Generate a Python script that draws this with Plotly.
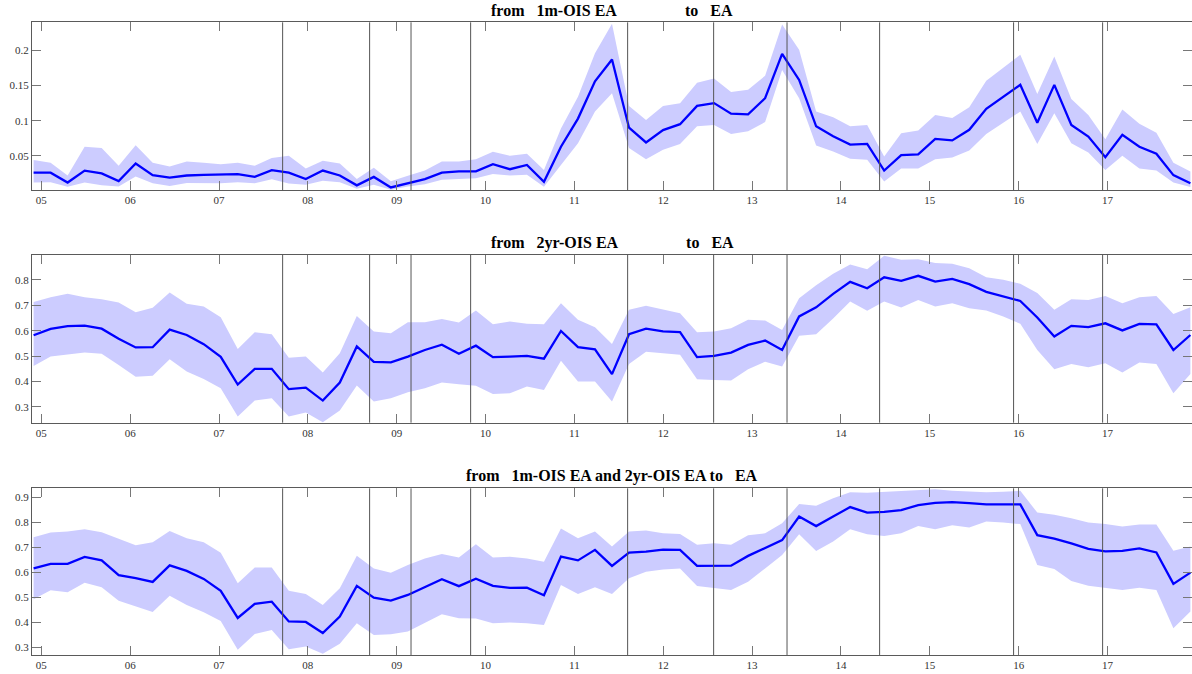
import plotly.graph_objects as go

# ---- time index (decimal years) ----
n_obs = 69
t_start, t_end = 2004.913, 2017.933
dates = [t_start + i * (t_end - t_start) / (n_obs - 1) for i in range(n_obs)]

year_ticks = list(range(2005, 2018))
year_labels = ["%02d" % (y % 100) for y in year_ticks]

# dates of the vertical event markers
events = [2007.716, 2008.695, 2009.161, 2009.832, 2011.599,
          2012.567, 2013.393, 2014.435, 2015.943, 2016.945]

# ---- panel 1: from 1m-OIS EA to EA ----
m1_mean = [0.026, 0.026, 0.012, 0.029, 0.025, 0.014, 0.039, 0.0225, 0.019, 0.022, 0.023,
           0.023, 0.024, 0.020, 0.0296, 0.026, 0.017, 0.029, 0.022, 0.008, 0.020, 0.005,
           0.0115, 0.017, 0.026, 0.028, 0.028, 0.038, 0.031, 0.037, 0.013, 0.063, 0.103,
           0.156, 0.187, 0.090, 0.069, 0.0866, 0.095, 0.121, 0.125, 0.110, 0.109, 0.132,
           0.195, 0.158,
           0.092, 0.078, 0.066, 0.067, 0.029, 0.051, 0.052, 0.074, 0.072, 0.087, 0.117,
           0.134, 0.151, 0.097, 0.151, 0.094, 0.0775, 0.048, 0.080, 0.063, 0.053, 0.0225, 0.011]
m1_upper = [0.044, 0.040, 0.022, 0.063, 0.061, 0.036, 0.065, 0.040, 0.035, 0.042, 0.040,
            0.038, 0.040, 0.036, 0.047, 0.050, 0.032, 0.043, 0.039, 0.017, 0.033, 0.014,
            0.0215, 0.029, 0.042, 0.042, 0.045, 0.0557, 0.050, 0.053, 0.030, 0.089, 0.134,
            0.196, 0.238, 0.121, 0.101, 0.121, 0.125, 0.154, 0.160, 0.141, 0.144, 0.164,
            0.237, 0.201,
            0.113, 0.105, 0.092, 0.094, 0.049, 0.082, 0.086, 0.108, 0.104, 0.119, 0.157,
            0.175, 0.194, 0.138, 0.1915, 0.131, 0.108, 0.0737, 0.116, 0.0955, 0.083, 0.040, 0.0277]
m1_lower = [0.012, 0.0125, 0.006, 0.012, 0.008, 0.0065, 0.0205, 0.011, 0.007, 0.0115, 0.0115,
            0.011, 0.0125, 0.011, 0.0167, 0.0105, 0.0087, 0.0144, 0.0125, 0.003, 0.0087, 0.0016,
            0.0063, 0.0096, 0.0158, 0.017, 0.018, 0.024, 0.022, 0.023, 0.006, 0.037, 0.068,
            0.113, 0.139, 0.061, 0.045, 0.0585, 0.067, 0.092, 0.094, 0.081, 0.085, 0.098,
            0.172, 0.132,
            0.0647, 0.056, 0.0457, 0.0444, 0.0134, 0.032, 0.032, 0.045, 0.0477, 0.0576, 0.081,
            0.097, 0.113, 0.067, 0.1107, 0.068, 0.0547, 0.030, 0.050, 0.032, 0.029, 0.012, 0.0055]

# ---- panel 2: from 2yr-OIS EA to EA ----
y2_mean = [0.582, 0.607, 0.618, 0.620, 0.608, 0.568, 0.534, 0.535, 0.604, 0.583, 0.547,
           0.497, 0.388, 0.450, 0.450, 0.370, 0.376, 0.325, 0.396, 0.538, 0.477, 0.475,
           0.498, 0.524, 0.545, 0.509, 0.541, 0.496, 0.498, 0.501, 0.490, 0.599, 0.535,
           0.527, 0.429, 0.586, 0.608, 0.597, 0.594, 0.496, 0.501, 0.514, 0.544, 0.561,
           0.524, 0.656,
           0.692, 0.745, 0.792, 0.767, 0.810, 0.796, 0.816, 0.793, 0.804, 0.783, 0.753,
           0.734, 0.717, 0.652, 0.577, 0.619, 0.614, 0.629, 0.601, 0.627, 0.625, 0.524, 0.583]
y2_upper = [0.713, 0.732, 0.745, 0.732, 0.724, 0.711, 0.673, 0.690, 0.750, 0.706, 0.695,
            0.653, 0.528, 0.594, 0.586, 0.493, 0.498, 0.435, 0.511, 0.658, 0.597, 0.590,
            0.633, 0.633, 0.646, 0.632, 0.679, 0.625, 0.636, 0.627, 0.625, 0.708, 0.643,
            0.614, 0.548, 0.682, 0.698, 0.685, 0.669, 0.594, 0.597, 0.610, 0.643, 0.640,
            0.603, 0.728,
            0.779, 0.824, 0.860, 0.842, 0.895, 0.879, 0.881, 0.866, 0.863, 0.846, 0.810,
            0.800, 0.785, 0.748, 0.682, 0.724, 0.721, 0.737, 0.708, 0.732, 0.737, 0.666, 0.692]
y2_lower = [0.461, 0.498, 0.505, 0.514, 0.509, 0.465, 0.419, 0.423, 0.488, 0.439, 0.410,
            0.373, 0.262, 0.325, 0.334, 0.262, 0.278, 0.240, 0.286, 0.384, 0.321, 0.334,
            0.358, 0.373, 0.396, 0.389, 0.383, 0.351, 0.354, 0.380, 0.367, 0.482, 0.400,
            0.400, 0.321, 0.469, 0.517, 0.511, 0.505, 0.409, 0.406, 0.404, 0.448, 0.478,
            0.459, 0.580,
            0.586, 0.648, 0.715, 0.678, 0.715, 0.691, 0.721, 0.695, 0.708, 0.688, 0.679,
            0.656, 0.627, 0.524, 0.448, 0.469, 0.456, 0.472, 0.435, 0.475, 0.469, 0.354, 0.430]

# ---- panel 3: from 1m-OIS EA and 2yr-OIS EA to EA ----
both_mean = [0.615, 0.633, 0.633, 0.661, 0.647, 0.588, 0.576, 0.561, 0.627, 0.605, 0.573,
             0.525, 0.417, 0.473, 0.482, 0.403, 0.401, 0.357, 0.423, 0.545, 0.498, 0.486,
             0.509, 0.542, 0.572, 0.544, 0.574, 0.545, 0.537, 0.538, 0.508, 0.662, 0.647,
             0.689, 0.625, 0.678, 0.682, 0.690, 0.689, 0.625, 0.626, 0.626, 0.665, 0.698,
             0.728, 0.822,
             0.784, 0.822, 0.860, 0.838, 0.841, 0.848, 0.868, 0.877, 0.880, 0.876, 0.871,
             0.871, 0.871, 0.748, 0.734, 0.715, 0.693, 0.683, 0.685, 0.695, 0.679, 0.553, 0.598]
both_upper = [0.739, 0.758, 0.762, 0.771, 0.759, 0.734, 0.707, 0.719, 0.764, 0.735, 0.719,
              0.678, 0.556, 0.619, 0.619, 0.526, 0.513, 0.469, 0.536, 0.666, 0.615, 0.598,
              0.629, 0.655, 0.673, 0.659, 0.711, 0.659, 0.662, 0.655, 0.642, 0.774, 0.735,
              0.762, 0.702, 0.762, 0.766, 0.755, 0.752, 0.709, 0.715, 0.709, 0.747, 0.755,
              0.795, 0.872,
              0.865, 0.895, 0.919, 0.917, 0.921, 0.923, 0.928, 0.931, 0.925, 0.921, 0.919,
              0.921, 0.925, 0.838, 0.829, 0.815, 0.798, 0.792, 0.782, 0.790, 0.790, 0.686, 0.702]
both_lower = [0.492, 0.528, 0.520, 0.558, 0.540, 0.486, 0.463, 0.441, 0.506, 0.469, 0.440,
              0.405, 0.290, 0.353, 0.369, 0.292, 0.303, 0.274, 0.314, 0.396, 0.349, 0.352,
              0.363, 0.396, 0.432, 0.416, 0.415, 0.396, 0.399, 0.396, 0.389, 0.549, 0.513,
              0.540, 0.513, 0.576, 0.602, 0.611, 0.615, 0.545, 0.538, 0.529, 0.562, 0.615,
              0.669, 0.751,
              0.685, 0.722, 0.771, 0.751, 0.744, 0.755, 0.784, 0.771, 0.787, 0.778, 0.802,
              0.798, 0.792, 0.629, 0.613, 0.565, 0.546, 0.536, 0.529, 0.538, 0.529, 0.376, 0.443]

NB = "\u00a0"
titles = [
    "from" + NB * 3 + "1m-OIS EA" + NB * 17 + "to" + NB * 3 + "EA",
    "from" + NB * 3 + "2yr-OIS EA" + NB * 17 + "to" + NB * 3 + "EA",
    "from" + NB * 3 + "1m-OIS EA and 2yr-OIS EA to" + NB * 3 + "EA",
]

panels = [
    (m1_mean, m1_lower, m1_upper, [0.001, 0.240], 0.05, [0.7177, 0.9669]),
    (y2_mean, y2_lower, y2_upper, [0.238, 0.898], 0.1, [0.3729, 0.6217]),
    (both_mean, both_lower, both_upper, [0.269, 0.935], 0.1, [0.0282, 0.2755]),
]

BAND = "rgb(204,204,255)"
LINE = "rgb(0,0,255)"
FRAME = "#5a5a5a"
TICKFONT = dict(family="Liberation Serif, Times New Roman, serif", size=11, color="#333333")

fig = go.Figure()
layout = dict(
    width=1192, height=674,
    margin=dict(l=32, r=0, t=0, b=0),
    paper_bgcolor="white", plot_bgcolor="white",
    showlegend=False,
)
annotations = []
shapes = []

for k, (mean, lo, hi, yrng, dtick, dom) in enumerate(panels):
    sfx = "" if k == 0 else str(k + 1)
    xname, yname = "x" + sfx, "y" + sfx

    # confidence band as a closed polygon
    fig.add_trace(go.Scatter(
        x=dates + dates[::-1], y=hi + lo[::-1],
        xaxis=xname, yaxis=yname,
        mode="lines", line=dict(width=0, color=BAND),
        fill="toself", fillcolor=BAND, hoverinfo="skip",
    ))
    fig.add_trace(go.Scatter(
        x=dates, y=mean, xaxis=xname, yaxis=yname,
        mode="lines", line=dict(color=LINE, width=2.3),
    ))

    layout["xaxis" + sfx] = dict(
        domain=[0, 1], anchor=yname,
        range=[2004.895, 2017.951],
        tickvals=year_ticks, ticktext=year_labels,
        ticks="inside", ticklen=9, tickwidth=1, tickcolor="#777777",
        showline=True, linecolor=FRAME, linewidth=1, mirror="ticks",
        showgrid=False, zeroline=False, tickfont=TICKFONT,
    )
    layout["yaxis" + sfx] = dict(
        domain=dom, anchor=xname,
        range=yrng, dtick=dtick, tick0=0,
        ticks="inside", ticklen=9, tickwidth=1, tickcolor="#777777",
        showline=True, linecolor=FRAME, linewidth=1, mirror="ticks",
        showgrid=False, zeroline=False, tickfont=TICKFONT,
    )

    for ev in events:
        shapes.append(dict(
            type="line", xref=xname, yref=yname + " domain",
            x0=ev, x1=ev, y0=0, y1=1,
            line=dict(color="#555555", width=1), layer="above",
        ))

    annotations.append(dict(
        text="<b>" + titles[k] + "</b>", xref="paper", yref="paper",
        x=0.5, y=dom[1], xanchor="center", yanchor="bottom", yshift=1,
        showarrow=False,
        font=dict(family="Liberation Serif, Times New Roman, serif", size=16, color="black"),
    ))

layout["annotations"] = annotations
layout["shapes"] = shapes
fig.update_layout(**layout)

fig.write_html("out.html")
